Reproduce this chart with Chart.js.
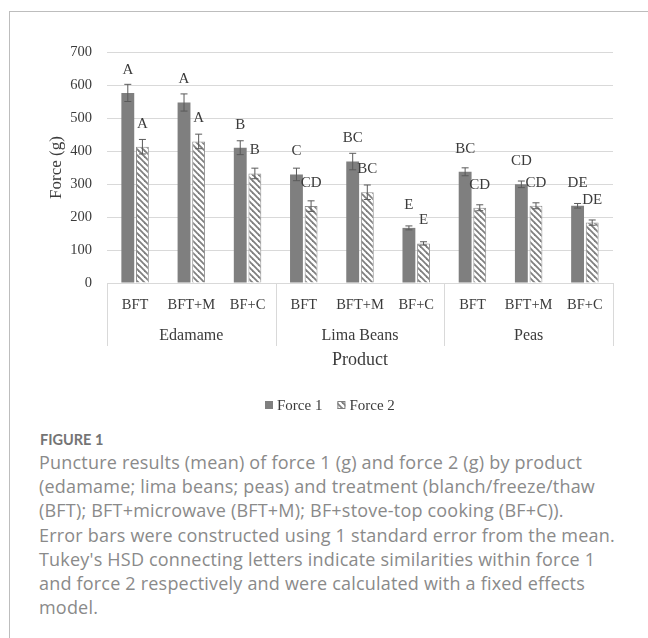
<!DOCTYPE html>
<html>
<head>
<meta charset="utf-8">
<script src="https://cdn.jsdelivr.net/npm/chart.js@4.4.1/dist/chart.umd.min.js"></script>
<style>
  html, body { margin: 0; padding: 0; background: #fff; }
  body { width: 648px; height: 638px; position: relative; overflow: hidden; }
  #frame { position: absolute; left: 9px; top: 11px; right: 0; bottom: 0;
           border-top: 1px solid #bdbdbd; border-left: 1px solid #bdbdbd; }
  #wrap { position: absolute; left: 0; top: 0; width: 648px; height: 430px; }
  #caption { position: absolute; left: 39px; top: 430px; width: 606px;
             font-family: "Open Sans", Lato, sans-serif; color: #8a8a8a; white-space: nowrap; }
  #caption .fig { font-family: Lato, sans-serif; font-weight: 700; font-size: 14.5px; color: #747474; line-height: 20px; padding-left: 1px; }
  #caption .txt { font-size: 18px; letter-spacing: 0.2px; line-height: 24.2px; margin-top: 0px; }
</style>
</head>
<body>
<div id="frame"></div>
<div id="wrap"><canvas id="chart" width="648" height="430"></canvas></div>
<div id="caption">
  <div class="fig">FIGURE 1</div>
  <div class="txt">Puncture results (mean) of force 1 (g) and force 2 (g) by product<br>(edamame; lima beans; peas) and treatment (blanch/freeze/thaw<br>(BFT); BFT+microwave (BFT+M); BF+stove-top cooking (BF+C)).<br>Error bars were constructed using 1 standard error from the mean.<br>Tukey's HSD connecting letters indicate similarities within force 1<br>and force 2 respectively and were calculated with a fixed effects<br>model.</div>
</div>
<script>
// Products and the three treatments applied to each
const products = ['Edamame', 'Lima Beans', 'Peas'];
const treatments = ['BFT', 'BFT+M', 'BF+C'];

// Mean puncture force (g) and standard error, in product/treatment order
const force1 = [576, 547, 410, 329, 368, 167, 337, 299, 234];
const force1SE = [26, 26, 21, 19, 25, 6, 12, 10, 7];
const force2 = [413, 429, 332, 233, 275, 120, 228, 234, 183];
const force2SE = [22, 22, 16, 16, 22, 5, 9, 9, 8];

// Tukey HSD connecting letters
const force1Letters = ['A', 'A', 'B', 'C', 'BC', 'E', 'BC', 'CD', 'DE'];
const force2Letters = ['A', 'A', 'B', 'CD', 'BC', 'E', 'CD', 'CD', 'DE'];

// Value axis
const yMin = 0, yMax = 700, yStep = 100;

const labels = [];
products.forEach(() => treatments.forEach(t => labels.push(t)));

const SERIF = '"Liberation Serif", "DejaVu Serif", serif';
const TEXT = '#3b3b3b';
const GREY = '#7f7f7f';

// Wide downward diagonal hatch for the second series
function makeHatch() {
  const c = document.createElement('canvas');
  c.width = 6; c.height = 6;
  const g = c.getContext('2d');
  g.fillStyle = '#ffffff';
  g.fillRect(0, 0, 6, 6);
  g.strokeStyle = GREY;
  g.lineWidth = 1.8;
  [-6, 0, 6].forEach(k => {
    g.beginPath();
    g.moveTo(k - 1, -1);
    g.lineTo(k + 7, 7);
    g.stroke();
  });
  return g.createPattern(c, 'repeat');
}
const hatch = makeHatch();

const extras = {
  id: 'extras',
  afterDatasetsDraw(chart) {
    const { ctx, scales: { x, y }, chartArea } = chart;
    const ses = [force1SE, force2SE];
    const letters = [force1Letters, force2Letters];
    ctx.save();
    // error bars
    chart.data.datasets.forEach((ds, di) => {
      const meta = chart.getDatasetMeta(di);
      meta.data.forEach((bar, i) => {
        const v = ds.data[i], se = ses[di][i];
        const yt = y.getPixelForValue(v + se);
        const yb = y.getPixelForValue(v - se);
        ctx.strokeStyle = '#5a5a5a';
        ctx.lineWidth = 1;
        ctx.beginPath();
        ctx.moveTo(bar.x, yt); ctx.lineTo(bar.x, yb);
        ctx.moveTo(bar.x - 3.5, yt); ctx.lineTo(bar.x + 3.5, yt);
        ctx.moveTo(bar.x - 3.5, yb); ctx.lineTo(bar.x + 3.5, yb);
        ctx.stroke();
      });
    });
    // connecting letters
    ctx.fillStyle = TEXT;
    ctx.font = '15px ' + SERIF;
    ctx.textAlign = 'center';
    ctx.textBaseline = 'middle';
    chart.data.datasets.forEach((ds, di) => {
      const meta = chart.getDatasetMeta(di);
      meta.data.forEach((bar, i) => {
        ctx.fillText(letters[di][i], bar.x, bar.y - 23);
      });
    });

    // grouped category box
    const top = chartArea.bottom, bot = chartArea.bottom + 63;
    const n = treatments.length;
    const edges = [x.left];
    for (let p = 1; p < products.length; p++) {
      edges.push((x.getPixelForValue(p * n - 1) + x.getPixelForValue(p * n)) / 2);
    }
    edges.push(x.right);
    ctx.strokeStyle = '#d9d9d9';
    ctx.lineWidth = 1;
    edges.forEach(e => {
      const ex = Math.round(e) + 0.5;
      ctx.beginPath(); ctx.moveTo(ex, top); ctx.lineTo(ex, bot); ctx.stroke();
    });
    ctx.fillStyle = TEXT;
    ctx.font = '16px ' + SERIF;
    products.forEach((p, pi) => {
      ctx.fillText(p, x.getPixelForValue(pi * n + (n - 1) / 2), chartArea.bottom + 53);
    });

    // axis titles
    ctx.font = '18px ' + SERIF;
    ctx.fillText('Product', (chartArea.left + chartArea.right) / 2, chartArea.bottom + 77);
    ctx.save();
    ctx.translate(57, (chartArea.top + chartArea.bottom) / 2);
    ctx.rotate(-Math.PI / 2);
    ctx.font = '17px ' + SERIF;
    ctx.fillText('Force (g)', 0, 0);
    ctx.restore();

    // legend
    ctx.font = '15px ' + SERIF;
    ctx.textAlign = 'left';
    const ly = 405;
    const items = chart.data.datasets;
    let lx = 265;
    items.forEach((ds, di) => {
      ctx.fillStyle = ds.backgroundColor;
      ctx.fillRect(lx, ly - 4, 8, 8);
      if (di === 1) {
        ctx.strokeStyle = GREY;
        ctx.strokeRect(lx + 0.5, ly - 3.5, 7, 7);
      }
      ctx.fillStyle = TEXT;
      ctx.fillText(ds.label, lx + 12, ly + 1);
      lx += 12 + ctx.measureText(ds.label).width + 15;
    });
    ctx.restore();
  }
};

new Chart(document.getElementById('chart'), {
  type: 'bar',
  data: {
    labels: labels,
    datasets: [
      { label: 'Force 1', data: force1, backgroundColor: GREY, borderWidth: 0 },
      { label: 'Force 2', data: force2, backgroundColor: hatch, borderColor: '#8f8f8f', borderWidth: 1 }
    ]
  },
  options: {
    responsive: false,
    animation: false,
    events: [],
    datasets: { bar: { categoryPercentage: 0.52, barPercentage: 0.88 } },
    layout: { padding: { top: 52, right: 35, bottom: 84, left: 0 } },
    plugins: { legend: { display: false }, tooltip: { enabled: false } },
    scales: {
      x: {
        grid: { display: false, drawTicks: false },
        border: { display: true, color: '#d9d9d9' },
        ticks: { color: TEXT, font: { family: SERIF, size: 14.5 }, padding: 13, maxRotation: 0, autoSkip: false },
        afterFit: s => { s.height = 63; }
      },
      y: {
        min: yMin, max: yMax,
        grid: { color: '#d9d9d9', drawTicks: false },
        border: { display: false },
        ticks: { stepSize: yStep, color: TEXT, font: { family: SERIF, size: 14.5 }, padding: 15 },
        afterFit: s => { s.width = 107; }
      }
    }
  },
  plugins: [extras]
});
</script>
</body>
</html>
